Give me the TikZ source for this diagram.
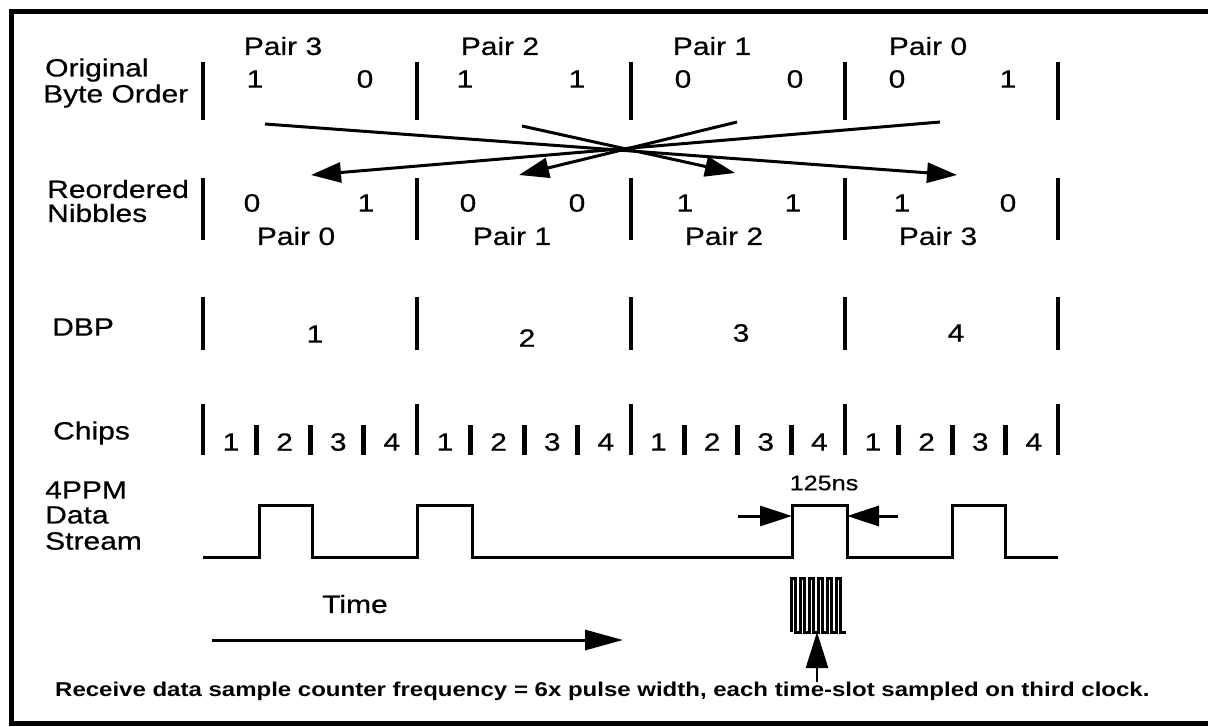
\documentclass[tikz,border=0pt]{standalone}
\usepackage{fontspec}
\setmainfont{Liberation Sans}[FakeStretch=1.2]
\newfontfamily\lblfont{Liberation Sans}[FakeStretch=1.2,FakeBold=0.6]
\usetikzlibrary{arrows.meta}
\begin{document}
\begin{tikzpicture}[x=1pt,y=-1pt,
  lbl/.style={font=\lblfont\fontsize{25}{27}\selectfont, inner sep=0pt, anchor=west},
  txt/.style={font=\lblfont\fontsize{25}{27}\selectfont, inner sep=0pt},
  small/.style={font=\lblfont\fontsize{21}{23}\selectfont, inner sep=0pt},
  bar/.style={line width=4pt},
  sbar/.style={line width=5pt},
  sig/.style={line width=3pt, line join=miter},
  cross/.style={line width=3pt, -{Triangle[length=30pt,width=20pt]}},
  dim/.style={line width=3pt, -{Triangle[length=32pt,width=20pt]}}]
\useasboundingbox (0,0) rectangle (1208,726);
% frame
\draw[line width=5pt] (1212,11) -- (11.5,11) -- (11.5,723) -- (1212,723);

% row labels
\node[lbl] (lo1) at (45,70) {Original};
\node[lbl] (lo2) at (43,96) {Byte Order};
\node[lbl] (lr1) at (47,189) {Reordered};
\node[lbl] (lr2) at (47,213) {Nibbles};
\node[lbl] (ld) at (52,327) {DBP};
\node[lbl] (lc) at (53,433) {Chips};
\node[lbl] (lp1) at (45,490) {4PPM};
\node[lbl] (lp2) at (45,515) {Data};
\node[lbl] (lp3) at (45,541) {Stream};

% bars
\foreach \x in {203,417,630.5,845,1058} {
  \draw[bar] (\x,62) -- (\x,120);
  \draw[bar] (\x,178) -- (\x,240);
  \draw[bar] (\x,297) -- (\x,350);
  \draw[bar] (\x,404) -- (\x,455);
}
\foreach \x in {203,417,630.5,845} {
  \foreach \k in {1,2,3} {
    \draw[sbar] ({\x+53.6*\k},425) -- ({\x+53.6*\k},455);
  }
  \foreach \k/\n in {0/1,1/2,2/3,3/4} {
    \node[txt] (c\x-\n) at ({\x+28+53.6*\k},442) {\n};
  }
}

% original byte order
\node[txt] (op3) at (283,46) {Pair 3};
\node[txt] (op2) at (500,46) {Pair 2};
\node[txt] (op1) at (712,46) {Pair 1};
\node[txt] (op0) at (928,46) {Pair 0};
\node[txt] (ob1) at (255,79) {1};
\node[txt] (ob2) at (365,79) {0};
\node[txt] (ob3) at (465,79) {1};
\node[txt] (ob4) at (577,79) {1};
\node[txt] (ob5) at (683,79) {0};
\node[txt] (ob6) at (795,79) {0};
\node[txt] (ob7) at (897,79) {0};
\node[txt] (ob8) at (1008,79) {1};

% reordered nibbles
\node[txt] (rb1) at (252,203) {0};
\node[txt] (rb2) at (366,203) {1};
\node[txt] (rb3) at (468,203) {0};
\node[txt] (rb4) at (577,203) {0};
\node[txt] (rb5) at (685,203) {1};
\node[txt] (rb6) at (793,203) {1};
\node[txt] (rb7) at (902,203) {1};
\node[txt] (rb8) at (1008,203) {0};
\node[txt] (rp0) at (296,236) {Pair 0};
\node[txt] (rp1) at (512,236) {Pair 1};
\node[txt] (rp2) at (724,236) {Pair 2};
\node[txt] (rp3) at (938,236) {Pair 3};

% crossing arrows
\coordinate (s3) at (265,124);
\coordinate (t3) at (957,175);
\coordinate (s0) at (940,122);
\coordinate (t0) at (311,175);
\coordinate (s2) at (522,126);
\coordinate (t2) at (735,173);
\coordinate (s1) at (737,122);
\coordinate (t1) at (519,175);
\draw[cross] (s3) -- (t3);
\draw[cross] (s0) -- (t0);
\draw[cross] (s2) -- (t2);
\draw[cross] (s1) -- (t1);

% DBP
\node[txt] (d1) at (315,334) {1};
\node[txt] (d2) at (527,338) {2};
\node[txt] (d3) at (741,333) {3};
\node[txt] (d4) at (956,333) {4};

% 4PPM waveform
\draw[sig] (203,557) -- (259,557) -- (259,505) -- (312,505) -- (312,557)
  -- (417,557) -- (417,505) -- (472,505) -- (472,557)
  -- (792,557) -- (792,505) -- (847,505) -- (847,557)
  -- (952,557) -- (952,505) -- (1005,505) -- (1005,557) -- (1058,557);

% 125ns
\node[small] (ns) at (824,483) {125ns};
\coordinate (la) at (738,516);
\coordinate (lt) at (792,516);
\coordinate (ra) at (898,516);
\coordinate (rt) at (847,516);
\draw[dim] (la) -- (lt);
\draw[dim] (ra) -- (rt);

% sample clock burst
\draw[line width=3pt, line join=miter] (791,632)
  -- (791,578) -- (795.5,578) -- (795.5,632) -- (800,632)
  -- (800,578) -- (804.5,578) -- (804.5,632) -- (809,632)
  -- (809,578) -- (813.5,578) -- (813.5,632) -- (818,632)
  -- (818,578) -- (822.5,578) -- (822.5,632) -- (827,632)
  -- (827,578) -- (831.5,578) -- (831.5,632) -- (836,632)
  -- (836,578) -- (840.5,578) -- (840.5,632) -- (846,632);
\coordinate (sb) at (817,682);
\coordinate (st) at (817,632);
\draw[line width=2.5pt, -{Triangle[length=36pt,width=22pt]}] (sb) -- (st);

% time arrow
\node[txt] (time) at (355,604) {Time};
\coordinate (ta) at (212,640);
\coordinate (tb) at (623,640);
\draw[line width=3pt, -{Triangle[length=38pt,width=20pt]}] (ta) -- (tb);

% caption
\node[inner sep=0pt, anchor=west, font=\bfseries\fontsize{20}{22}\selectfont] (cap) at (55,691)
  {Receive data sample counter frequency = 6x pulse width, each time-slot sampled on third clock.};
\end{tikzpicture}
\end{document}
